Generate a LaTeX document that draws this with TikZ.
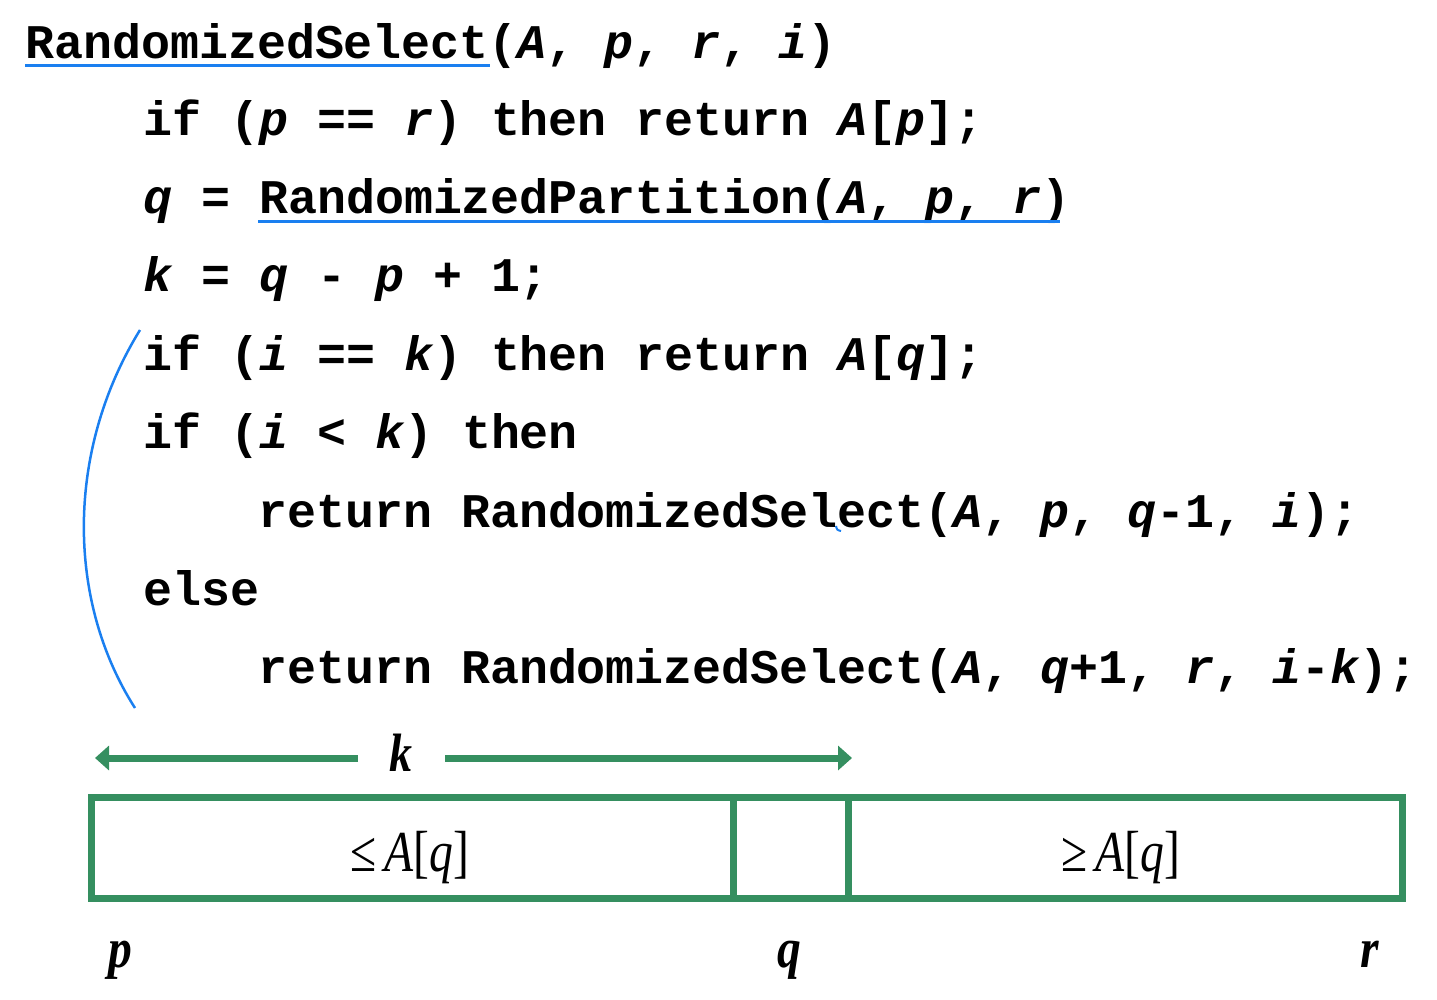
\documentclass[tikz,border=0pt]{standalone}
\usepackage{fontspec}
\setmonofont{Liberation Mono}
\newfontfamily\tnr{Liberation Serif}
\usetikzlibrary{arrows.meta}
\definecolor{codeblue}{HTML}{1A7FF0}
\definecolor{boxgreen}{HTML}{358F60}
\tikzset{
  code/.style={anchor=base west, inner sep=0pt, font=\fontsize{48.3pt}{58pt}\selectfont\ttfamily\bfseries},
  uline/.style={draw=codeblue, line width=3pt},
  cell/.style={draw=boxgreen, line width=7pt, minimum height=101pt, inner sep=0pt, font=\fontsize{58pt}{60pt}\selectfont\tnr},
  idxlab/.style={anchor=base, inner sep=0pt, xscale=0.85, font=\fontsize{56pt}{60pt}\selectfont\tnr\bfseries\itshape},
  karrow/.style={draw=boxgreen, line width=7pt, -{Triangle[length=14pt,width=24pt]}}
}
\begin{document}
\begin{tikzpicture}[x=1pt,y=-1pt]
\useasboundingbox (0,0) rectangle (1437,999);
% code lines
\node[code] (l1) at (25,58) {RandomizedSelect({\itshape A}, {\itshape p}, {\itshape r}, {\itshape i})};
\node[code] (l2) at (143,135) {if ({\itshape p} == {\itshape r}) then return {\itshape A}[{\itshape p}];};
\node[code] (l3) at (143,213) {{\itshape q} = RandomizedPartition({\itshape A}, {\itshape p}, {\itshape r})};
\node[code] (l4) at (143,291) {{\itshape k} = {\itshape q} - {\itshape p} + 1;};
\node[code] (l5) at (143,370) {if ({\itshape i} == {\itshape k}) then return {\itshape A}[{\itshape q}];};
\node[code] (l6) at (143,448) {if ({\itshape i} < {\itshape k}) then};
\node[code] (l7) at (258,527) {return RandomizedSelect({\itshape A}, {\itshape p}, {\itshape q}-1, {\itshape i});};
\node[code] (l8) at (143,605) {else};
\node[code] (l9) at (258,683) {return RandomizedSelect({\itshape A}, {\itshape q}+1, {\itshape r}, {\itshape i}-{\itshape k});};
% blue annotations
\coordinate (u1a) at (25,65); \coordinate (u1b) at (490,65);
\draw[uline] (u1a) -- (u1b);
\coordinate (u3a) at (258,221); \coordinate (u3b) at (1060,221);
\draw[uline] (u3a) -- (u3b);
\coordinate (cva) at (140,330); \coordinate (cvb) at (135,708);
\draw[codeblue, line width=2.5pt] (cva) .. controls (66,450) and (66,600) .. (cvb);
\coordinate (tka) at (836,526); \coordinate (tkb) at (841,531);
\draw[codeblue, line width=2pt] (tka) .. controls (837,530) .. (tkb);
% k arrow
\node[inner sep=0pt, anchor=base, xscale=0.85, font=\fontsize{54pt}{58pt}\selectfont\tnr\bfseries\itshape] (klab) at (401,771) {k};
\coordinate (kl1) at (358,758); \coordinate (kl2) at (95,758);
\coordinate (kr1) at (445,758); \coordinate (kr2) at (852,758);
\draw[karrow] (kl1) -- (kl2);
\draw[karrow] (kr1) -- (kr2);
% partition boxes
\node[cell, minimum width=642pt] (left) at (412,847.5) {};
\node[cell, minimum width=115pt] (mid) at (790.5,847.5) {};
\node[cell, minimum width=554pt] (right) at (1125,847.5) {};
\node[inner sep=0pt, anchor=base, xscale=0.82, font=\fontsize{58pt}{60pt}\selectfont\tnr] (lelab) at (410,871) {≤\,\textit{A}[\textit{q}]};
\node[inner sep=0pt, anchor=base, xscale=0.82, font=\fontsize{58pt}{60pt}\selectfont\tnr] (gelab) at (1121,871) {≥\,\textit{A}[\textit{q}]};
% index labels
\node[idxlab] (plab) at (120,967) {p};
\node[idxlab] (qlab) at (789,967) {q};
\node[idxlab] (rlab) at (1370,967) {r};
\end{tikzpicture}
\end{document}
